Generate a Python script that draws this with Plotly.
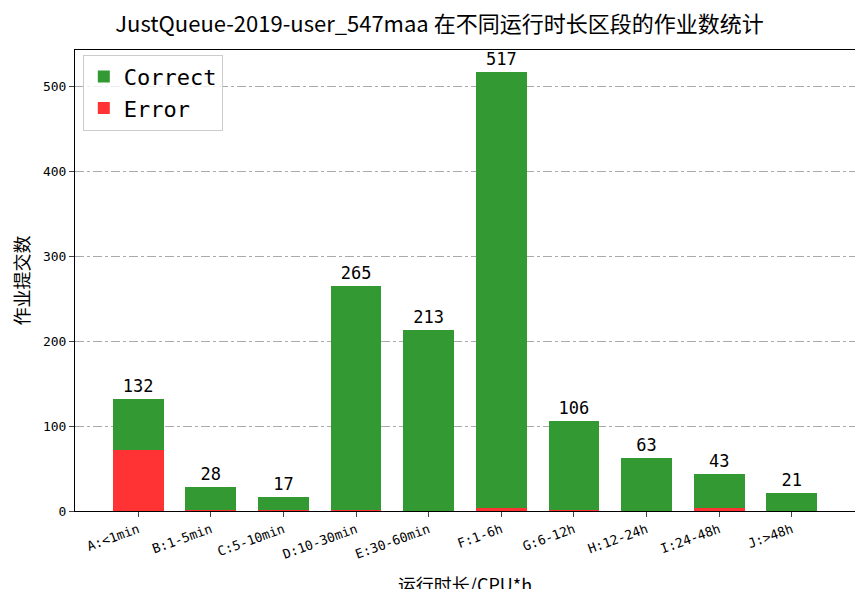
import plotly.graph_objects as go

categories = ["A:<1min","B:1-5min","C:5-10min","D:10-30min","E:30-60min","F:1-6h","G:6-12h","H:12-24h","I:24-48h","J:>48h"]
totals = [132,28,17,265,213,517,106,63,43,21]
errors = [72,1,1,1,0,4,1,0,3,0]
correct = [t-e for t,e in zip(totals,errors)]

font = "Noto Sans CJK SC"
mono = "DejaVu Sans Mono"
fig = go.Figure()
x = list(range(len(categories)))
fig.add_bar(x=x, y=errors, name="Error", marker=dict(color="#ff3333", line=dict(width=0)), width=0.7)
fig.add_bar(x=x, y=correct, name="Correct", marker=dict(color="#339933", line=dict(width=0)), width=0.7,
            text=[str(t) for t in totals], textposition="outside",
            textfont=dict(size=17, color="black", family=mono), cliponaxis=False)
fig.update_layout(
    barmode="stack", width=863, height=589, plot_bgcolor="white", paper_bgcolor="white",
    margin=dict(l=67, r=16, t=42, b=86),
    font=dict(family=font, size=14, color="black"),
    title=dict(text="JustQueue-2019-user_547maa 在不同运行时长区段的作业数统计", x=0.5, xanchor="center", y=0.985, font=dict(size=22)),
    legend=dict(x=0.01, y=0.99, xanchor="left", yanchor="top", traceorder="reversed",
                font=dict(size=22, family=mono), bordercolor="#cccccc", borderwidth=1,
                bgcolor="rgba(255,255,255,0.8)"),
    xaxis=dict(tickmode="array", tickvals=x, ticktext=categories, tickangle=-20, range=[-0.87, 9.87],
               showline=True, linecolor="black", mirror=True, ticks="outside", automargin=False,
               tickfont=dict(family=mono, size=13),
               title=dict(text="运行时长/CPU*h", font=dict(size=18), standoff=20)),
    yaxis=dict(range=[0, 543], dtick=100, showline=True, linecolor="black", mirror=True, ticks="outside",
               showgrid=True, gridcolor="#aaaaaa", griddash="dashdot", zeroline=False, automargin=False,
               tickfont=dict(family=mono, size=13),
               title=dict(text="作业提交数", font=dict(size=18), standoff=8)),
)
fig.write_html("out.html")
